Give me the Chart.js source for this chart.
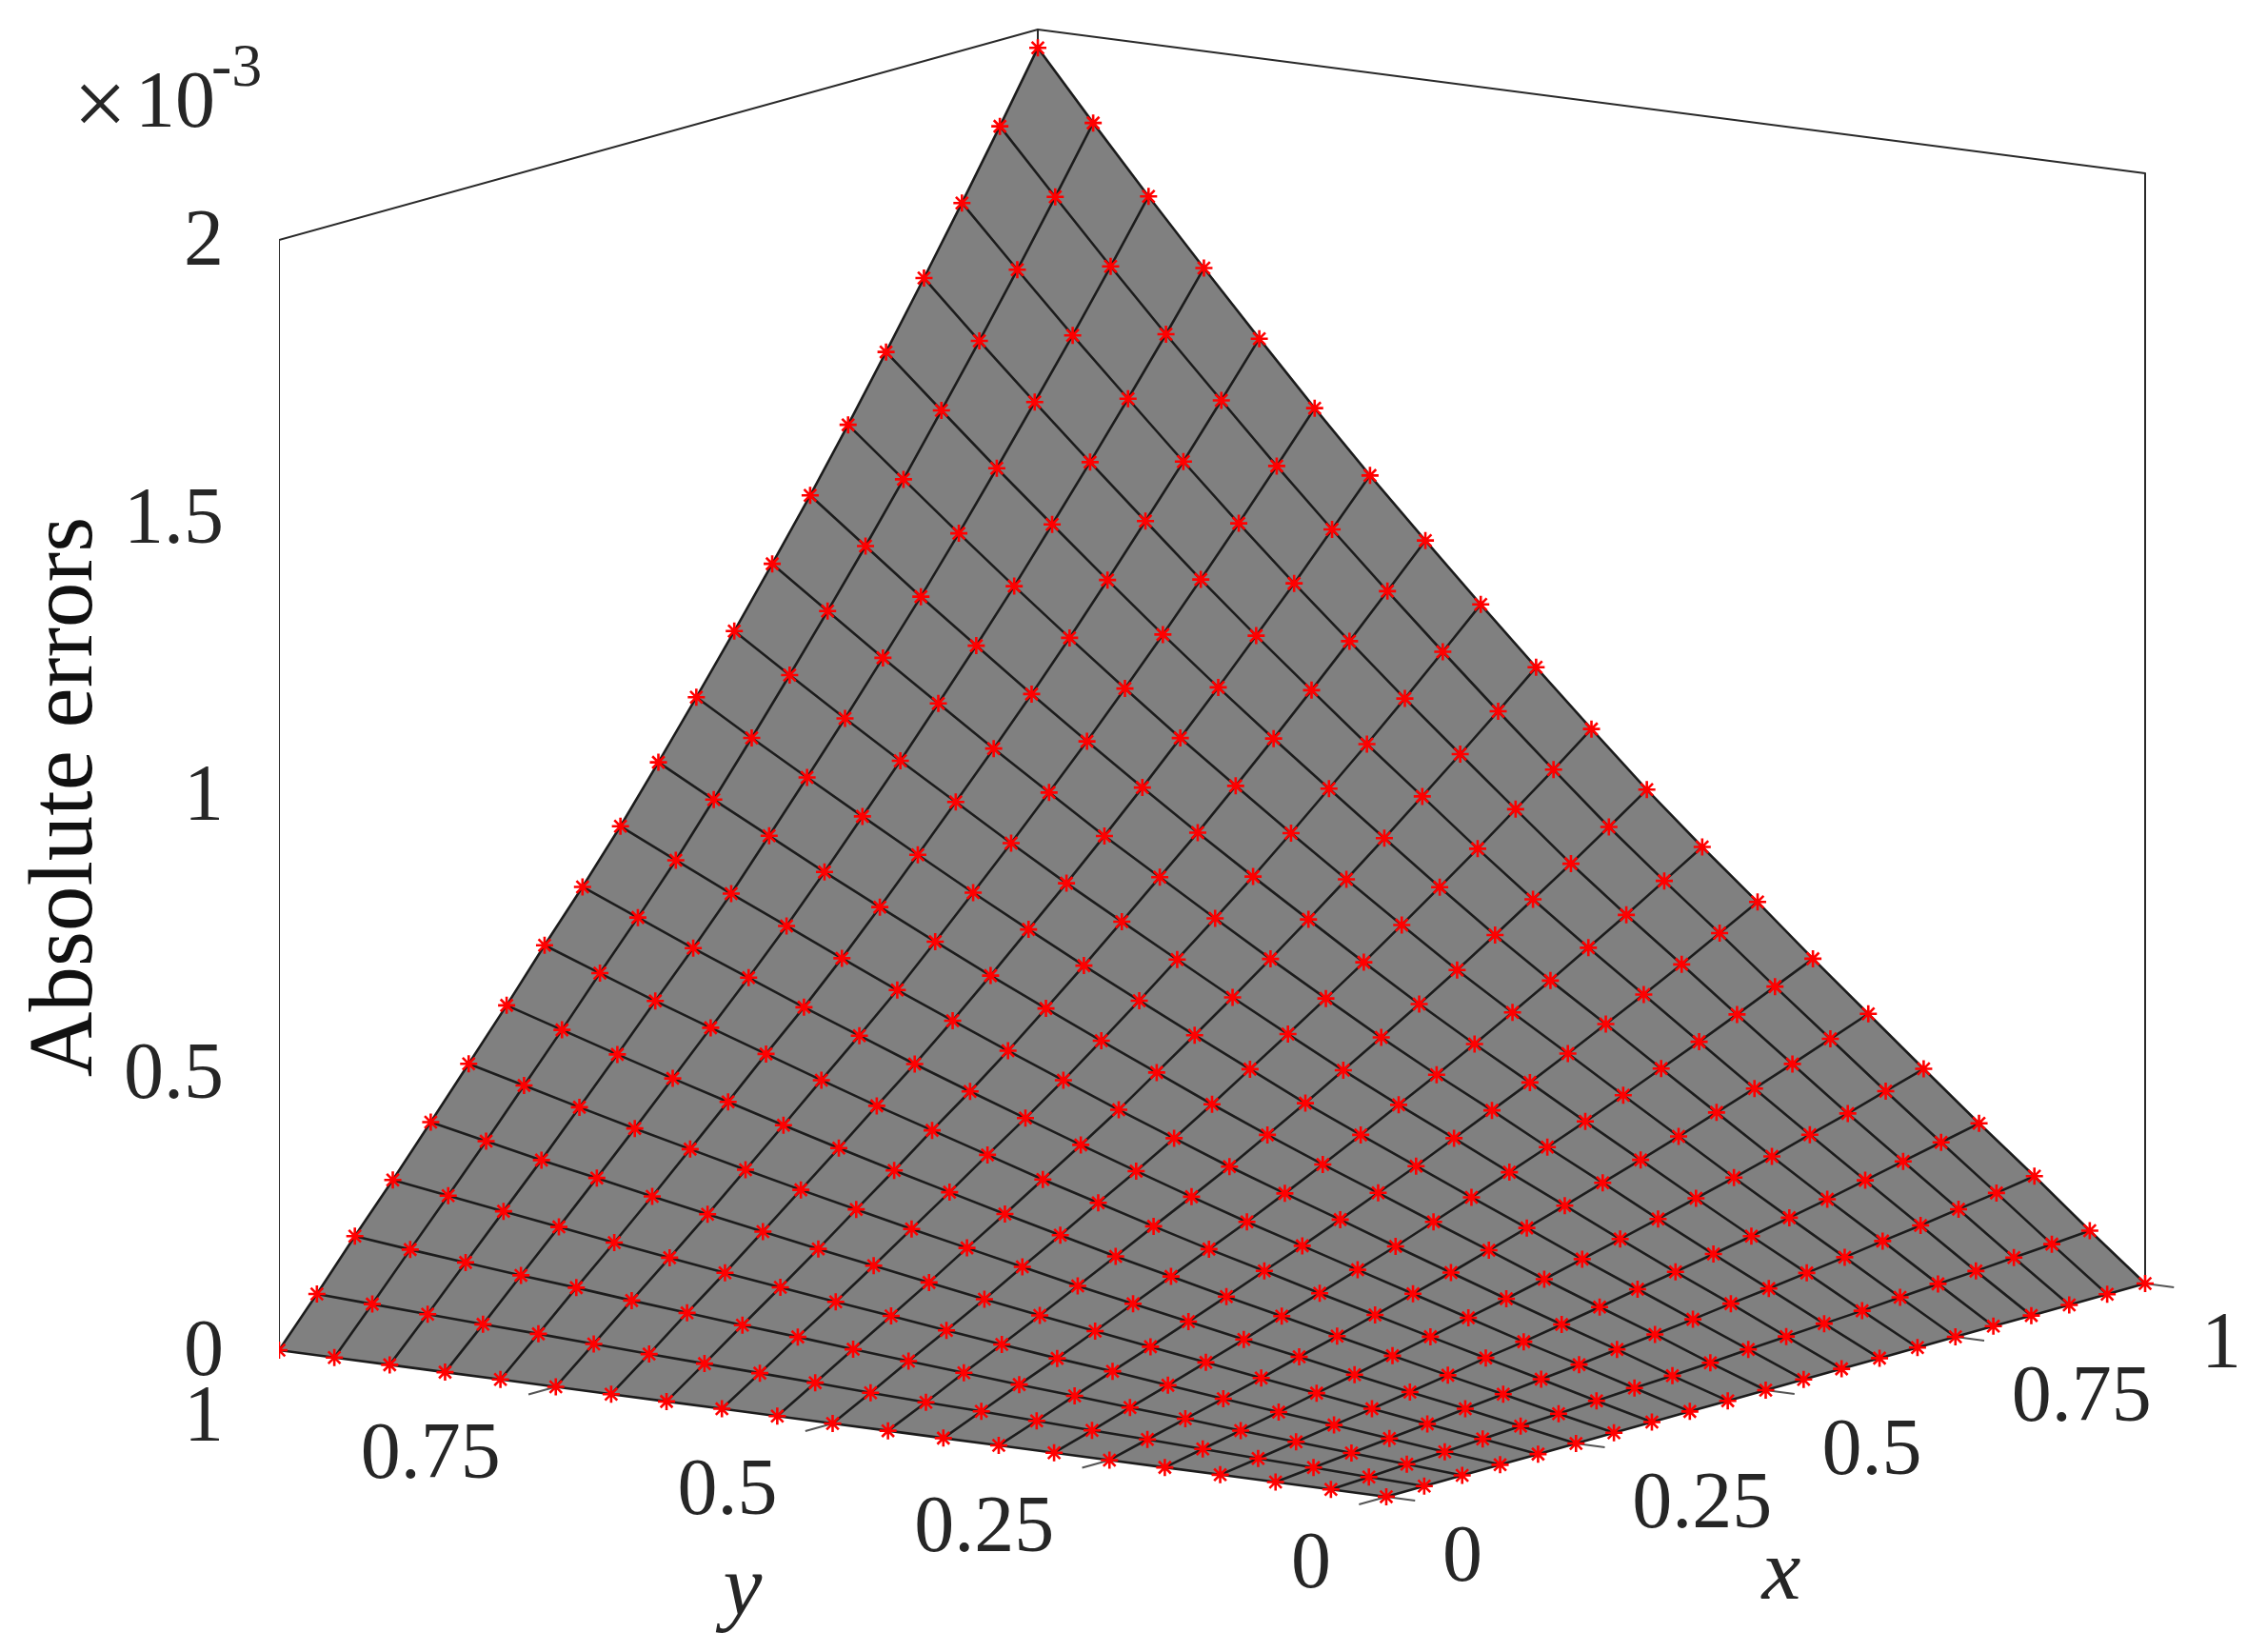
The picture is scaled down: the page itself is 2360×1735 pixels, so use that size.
<!DOCTYPE html>
<html>
<head>
<meta charset="utf-8">
<style>html,body{margin:0;padding:0;background:#fff}canvas{display:block}</style>
<script src="https://cdn.jsdelivr.net/npm/chart.js@4/dist/chart.umd.js"></script>
</head>
<body>
<canvas id="c" width="2360" height="1735"></canvas>
<script>
const xGrid = [0,.05,.1,.15,.2,.25,.3,.35,.4,.45,.5,.55,.6,.65,.7,.75,.8,.85,.9,.95,1];
const yGrid = [0,.05,.1,.15,.2,.25,.3,.35,.4,.45,.5,.55,.6,.65,.7,.75,.8,.85,.9,.95,1];
// absolute errors (x 1e-3); rows follow yGrid, columns follow xGrid
const absErrors = [
[0,0,0,0,0,0,0,0,0,0,0,0,0,0,0,0,0,0,0,0,0],
[0,.003,.007,.010,.014,.018,.021,.025,.029,.032,.036,.041,.045,.049,.053,.058,.063,.067,.072,.077,.082],
[0,.007,.014,.021,.028,.036,.043,.051,.058,.066,.074,.082,.091,.099,.108,.117,.127,.136,.146,.156,.167],
[0,.010,.021,.032,.042,.053,.064,.076,.086,.098,.110,.123,.135,.148,.161,.175,.189,.204,.219,.234,.249],
[0,.014,.028,.042,.057,.071,.086,.101,.116,.131,.147,.164,.181,.198,.216,.234,.253,.273,.292,.313,.334],
[0,.018,.036,.053,.071,.090,.108,.127,.146,.165,.186,.207,.228,.250,.272,.295,.319,.343,.368,.394,.420],
[0,.021,.043,.064,.086,.108,.131,.153,.176,.199,.224,.249,.275,.301,.328,.356,.385,.414,.444,.475,.506],
[0,.025,.051,.076,.101,.127,.153,.180,.206,.234,.263,.292,.323,.354,.385,.418,.452,.486,.521,.558,.595],
[0,.029,.058,.086,.116,.146,.176,.206,.236,.268,.301,.335,.370,.405,.441,.479,.517,.557,.597,.639,.681],
[0,.032,.066,.098,.131,.165,.199,.234,.268,.303,.341,.379,.419,.459,.500,.542,.586,.631,.676,.723,.771],
[0,.036,.074,.110,.147,.186,.224,.263,.301,.341,.383,.427,.471,.516,.562,.610,.659,.709,.761,.813,.867],
[0,.041,.082,.123,.164,.207,.249,.292,.335,.379,.427,.475,.524,.574,.626,.679,.734,.790,.847,.905,.965],
[0,.045,.091,.135,.181,.228,.275,.323,.370,.419,.471,.524,.579,.634,.690,.749,.810,.871,.934,.999,1.065],
[0,.049,.099,.148,.198,.250,.301,.354,.405,.459,.516,.574,.634,.695,.756,.821,.887,.955,1.024,1.095,1.167],
[0,.053,.108,.161,.216,.272,.328,.385,.441,.500,.562,.626,.690,.756,.824,.894,.966,1.040,1.115,1.193,1.271],
[0,.058,.117,.175,.234,.295,.356,.418,.479,.542,.610,.679,.749,.821,.894,.970,1.048,1.128,1.210,1.294,1.379],
[0,.063,.127,.189,.253,.319,.385,.452,.517,.586,.659,.734,.810,.887,.966,1.048,1.133,1.220,1.308,1.399,1.491],
[0,.067,.136,.204,.273,.343,.414,.486,.557,.631,.709,.790,.871,.955,1.040,1.128,1.220,1.313,1.408,1.505,1.605],
[0,.072,.146,.219,.292,.368,.444,.521,.597,.676,.761,.847,.934,1.024,1.115,1.210,1.308,1.408,1.509,1.614,1.721],
[0,.077,.156,.234,.313,.394,.475,.558,.639,.723,.813,.905,.999,1.095,1.193,1.294,1.399,1.505,1.614,1.726,1.840],
[0,.082,.167,.249,.334,.420,.506,.595,.681,.771,.867,.965,1.065,1.167,1.271,1.379,1.491,1.605,1.721,1.840,1.962]
];
const xTicks = [0,.25,.5,.75,1];
const yTicks = [0,.25,.5,.75,1];
const zTicks = [0,.5,1,1.5,2];
const xTickLabels = ['0','0.25','0.5','0.75','1'];
const yTickLabels = ['0','0.25','0.5','0.75','1'];
const zTickLabels = ['0','0.5','1','1.5','2'];

// Orthographic view of the 3D box, onto two linear scales
const CX = .6853, KX = .384, KY = .264;
const P = (x, y, z) => ({ x: CX * x + (1 - y), y: z + KX * x + KY * (y - 1) });

const INK = '#1c1c1c', TICK = '#555', TEXT = '#262626', FONT = '"Liberation Serif"';
const lineDs = (data, color, width, order) => ({
  data, showLine: true, borderColor: color, borderWidth: width, pointRadius: 0,
  fill: false, tension: 0, order, borderJoinStyle: 'round'
});

const datasets = [];
// box behind the surface
datasets.push(lineDs([P(0,1,0),P(0,1,2),P(1,1,1.995),P(1,0,2),P(1,0,0)], '#2a2a2a', 2, 7));
datasets.push(lineDs([P(1,1,1.995),P(1,1,0)], '#2a2a2a', 2, 7));
// tick marks
zTicks.forEach(z => datasets.push(lineDs([P(0,1,z),P(0,1.026,z)], TICK, 2, 6)));
yTicks.forEach(y => datasets.push(lineDs([P(0,y,0),P(-.036,y,0)], TICK, 2, 6)));
xTicks.forEach(x => datasets.push(lineDs([P(x,0,0),P(x,-.026,0)], TICK, 2, 6)));
// surface silhouette
const n = xGrid.length - 1, m = yGrid.length - 1;
const outline = [];
for (let i = 0; i <= n; i++) outline.push(P(xGrid[i], yGrid[0], absErrors[0][i]));
for (let j = 1; j <= m; j++) outline.push(P(xGrid[n], yGrid[j], absErrors[j][n]));
for (let i = n - 1; i >= 0; i--) outline.push(P(xGrid[i], yGrid[m], absErrors[m][i]));
for (let j = m - 1; j >= 0; j--) outline.push(P(xGrid[0], yGrid[j], absErrors[j][0]));
datasets.push({ data: outline, showLine: true, borderWidth: 0, borderColor: 'rgba(0,0,0,0)',
  backgroundColor: '#808080', fill: 'shape', pointRadius: 0, tension: 0, order: 5 });
// mesh lines
yGrid.forEach((y, j) => datasets.push(lineDs(xGrid.map((x, i) => P(x, y, absErrors[j][i])), INK, 2.6, 3)));
xGrid.forEach((x, i) => datasets.push(lineDs(yGrid.map((y, j) => P(x, y, absErrors[j][i])), INK, 2.6, 3)));
// red markers
const pts = [];
yGrid.forEach((y, j) => xGrid.forEach((x, i) => pts.push(P(x, y, absErrors[j][i]))));
datasets.push({ data: pts, showLine: false, pointStyle: 'star', pointRadius: 9,
  pointBorderColor: '#ff0000', pointBackgroundColor: '#ff0000', pointBorderWidth: 2.6, order: 1 });

const labels3d = {
  id: 'labels3d',
  afterDraw(chart) {
    const c = chart.ctx, sx = chart.scales.x, sy = chart.scales.y;
    const px = p => [sx.getPixelForValue(p.x), sy.getPixelForValue(p.y)];
    c.save();
    c.fillStyle = TEXT;
    c.textBaseline = 'middle';
    c.font = '84px ' + FONT;
    c.textAlign = 'right';
    yTicks.forEach((y, k) => {
      const [a, b] = px(P(0, y, 0));
      c.fillText(yTickLabels[k], a - 58, b + 73);
    });
    c.textAlign = 'left';
    xTicks.forEach((x, k) => {
      const [a, b] = px(P(x, 0, 0));
      c.fillText(xTickLabels[k], a + 59, b + 66);
    });
    c.textAlign = 'center';
    c.font = 'italic 92px ' + FONT;
    c.fillText('y', 780, 1672);
    c.fillText('x', 1871, 1655);
    c.textBaseline = 'alphabetic';
    c.textAlign = 'left';
    c.font = '100px ' + FONT;
    c.fillText('×', 77, 142);
    c.font = '84px ' + FONT;
    c.fillText('10', 142, 133);
    c.font = '64px ' + FONT;
    c.fillText('-3', 222, 90);
    c.restore();
  }
};

new Chart(document.getElementById('c'), {
  type: 'scatter',
  data: { datasets },
  plugins: [labels3d],
  options: {
    responsive: false, animation: false, devicePixelRatio: 1,
    layout: { autoPadding: false, padding: { top: 0, left: 0, right: 0, bottom: 61 } },
    plugins: { legend: { display: false }, tooltip: { enabled: false } },
    scales: {
      x: { type: 'linear', display: false, min: 0, max: 1.7773 },
      y: {
        type: 'linear', position: 'left', min: -.4391, max: 2.4323,
        grid: { display: false, drawTicks: false },
        border: { display: false },
        afterBuildTicks(s) { s.ticks = zTicks.map(v => ({ value: v })); },
        afterFit(s) {
          s.width = 293;
          s.paddingLeft = s.paddingRight = s.paddingTop = s.paddingBottom = 0;
        },
        ticks: {
          padding: 58, labelOffset: 4, color: TEXT, autoSkip: false, font: { family: FONT, size: 84 },
          callback: v => zTickLabels[zTicks.indexOf(v)]
        },
        title: { display: true, text: 'Absolute errors', color: '#111',
          font: { family: FONT, size: 95 }, padding: { top: 14, bottom: 0 } }
      }
    }
  }
});
</script>
</body>
</html>
